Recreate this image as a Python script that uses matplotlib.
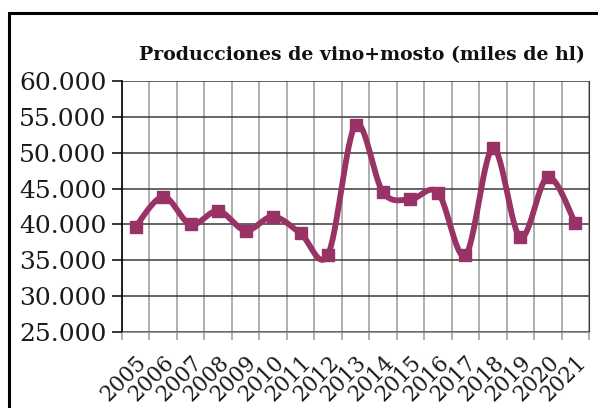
import numpy as np
import matplotlib
matplotlib.use("Agg")
import matplotlib.pyplot as plt
from matplotlib.patches import Rectangle
from matplotlib.ticker import FuncFormatter, FixedLocator

years = ["2005", "2006", "2007", "2008", "2009", "2010", "2011", "2012", "2013",
         "2014", "2015", "2016", "2017", "2018", "2019", "2020", "2021"]
production = [39700, 43850, 40000, 41900, 39150, 41100, 38750, 35800, 53850,
              44500, 43500, 44450, 35700, 50600, 38200, 46600, 40200]
title = "Producciones de vino+mosto (miles de hl)"
y_ticks = [25000, 30000, 35000, 40000, 45000, 50000, 55000, 60000]

W, H = 598, 408
fig = plt.figure(figsize=(W / 100, H / 100), dpi=100)
fig.patch.set_facecolor("white")

ax = fig.add_axes([122 / W, 1 - 332 / H, (589 - 122) / W, (332 - 81) / H])
ax.set_xlim(-0.5, len(years) - 0.5)
ax.set_ylim(y_ticks[0], y_ticks[-1])

# grid
for xv in np.arange(-0.5, len(years), 1.0):
    ax.axvline(xv, color="#9a9a9a", lw=1.1, zorder=1)
for yv in y_ticks:
    ax.axhline(yv, color="#3a3a3a", lw=1.1, zorder=1)

ax.spines["left"].set_color("black")
ax.spines["left"].set_linewidth(1.2)
ax.spines["bottom"].set_color("#9a9a9a")
ax.spines["right"].set_color("#3a3a3a")
ax.spines["top"].set_visible(False)

ax.yaxis.set_major_locator(FixedLocator(y_ticks))
ax.yaxis.set_major_formatter(FuncFormatter(lambda v, p: f"{int(v):,}".replace(",", ".")))
ax.tick_params(axis="y", direction="out", length=7, width=1.1, color="black", pad=4,
               labelsize=18)
for t in ax.get_yticklabels():
    t.set_family("DejaVu Serif")
    t.set_color("#1a1a1a")

ax.set_xticks(range(len(years)))
ax.set_xticklabels(years, rotation=45, ha="right", va="top",
                   rotation_mode="anchor", family="DejaVu Serif", fontsize=15.5,
                   color="#1a1a1a")
ax.tick_params(axis="x", which="major", length=0, pad=14)
ax.set_xticks(np.arange(-0.5, len(years), 1.0), minor=True)
ax.tick_params(axis="x", which="minor", direction="out", length=6, width=1.1,
               color="#9a9a9a")

# smoothed line (Excel-style Bezier through the points) in display space
fig.canvas.draw()
xs = np.arange(len(years), dtype=float)
pts = ax.transData.transform(np.column_stack([xs, production]))
curve = []
n = len(pts)
for i in range(n - 1):
    p0 = pts[i - 1] if i > 0 else pts[i]
    p1 = pts[i]
    p2 = pts[i + 1]
    p3 = pts[i + 2] if i + 2 < n else pts[i + 1]
    c1 = p1 + (p2 - p0) / 6.0
    c2 = p2 - (p3 - p1) / 6.0
    t = np.linspace(0, 1, 30)[:, None]
    seg = ((1 - t) ** 3) * p1 + 3 * ((1 - t) ** 2) * t * c1 + 3 * (1 - t) * t ** 2 * c2 + t ** 3 * p2
    curve.append(seg if i == 0 else seg[1:])
curve = np.vstack(curve)
curve_data = ax.transData.inverted().transform(curve)
ax.plot(curve_data[:, 0], curve_data[:, 1], color="#993366", lw=4.2, zorder=3,
        solid_capstyle="round", solid_joinstyle="round", clip_on=False)
ax.plot(xs, production, linestyle="none", marker="s", markersize=8.5,
        color="#993366", zorder=4, clip_on=False)

fig.text(362 / W, 1 - 55 / H, title, ha="center", va="center",
         family="DejaVu Serif", fontweight="bold", fontsize=13.6, color="#111111")

# outer chart border
fig.add_artist(Rectangle((9 / W, -0.05), 1.2, 1 - 13 / H + 0.05,
                         transform=fig.transFigure, fill=False,
                         edgecolor="black", lw=2.2))

fig.savefig("out.png", dpi=100)
